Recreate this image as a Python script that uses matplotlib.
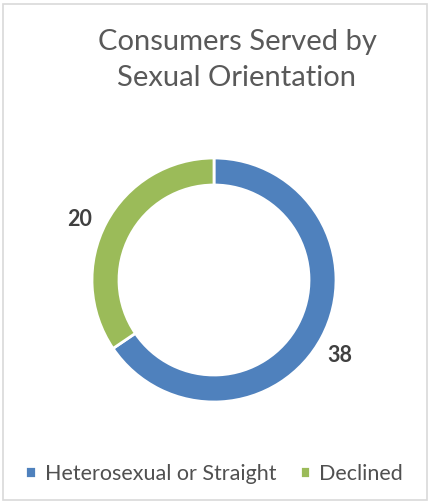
import matplotlib.pyplot as plt
from matplotlib.patches import Rectangle

plt.rcParams['font.family'] = ['Lato', 'DejaVu Sans']

labels = ["Heterosexual or Straight", "Declined"]
counts = [38, 20]
colors = ["#4F81BD", "#9BBB59"]

fig = plt.figure(figsize=(4.3, 5.04), dpi=100)
fig.patches.append(Rectangle((0.008, 0.008), 0.984, 0.984, transform=fig.transFigure,
                             fill=False, edgecolor="#D9D9D9", linewidth=1.2))

# donut centred at ~ (214, 280) px, outer radius ~122 px
ax = fig.add_axes([(214 - 140) / 430, 1 - (280 + 140) / 504, 280 / 430, 280 / 504])
wedges, _ = ax.pie(counts, colors=colors, startangle=90, counterclock=False,
                   radius=122 / 140,
                   wedgeprops=dict(width=27 / 140, edgecolor="white", linewidth=2))
ax.set_xlim(-1, 1)
ax.set_ylim(-1, 1)
ax.set_aspect("equal")
ax.axis("off")

# value labels outside the ring
fig.text(80 / 430, 1 - 220 / 504, str(counts[1]), fontsize=15.5, fontweight="bold",
         color="#404040", ha="center", va="center")
fig.text(340 / 430, 1 - 356 / 504, str(counts[0]), fontsize=15.5, fontweight="bold",
         color="#404040", ha="center", va="center")

fig.text(237 / 430, 1 - 60 / 504, "Consumers Served by\nSexual Orientation", fontsize=21,
         color="#595959", ha="center", va="center", linespacing=1.45)

fig.legend(wedges, labels, loc="center", bbox_to_anchor=(214 / 430, 1 - 474 / 504),
           ncol=2, frameon=False, fontsize=15.5, labelcolor="#505050",
           handlelength=0.5, handleheight=0.5, handletextpad=0.4, columnspacing=1.1)

fig.savefig("out.png", dpi=100, facecolor="white")
